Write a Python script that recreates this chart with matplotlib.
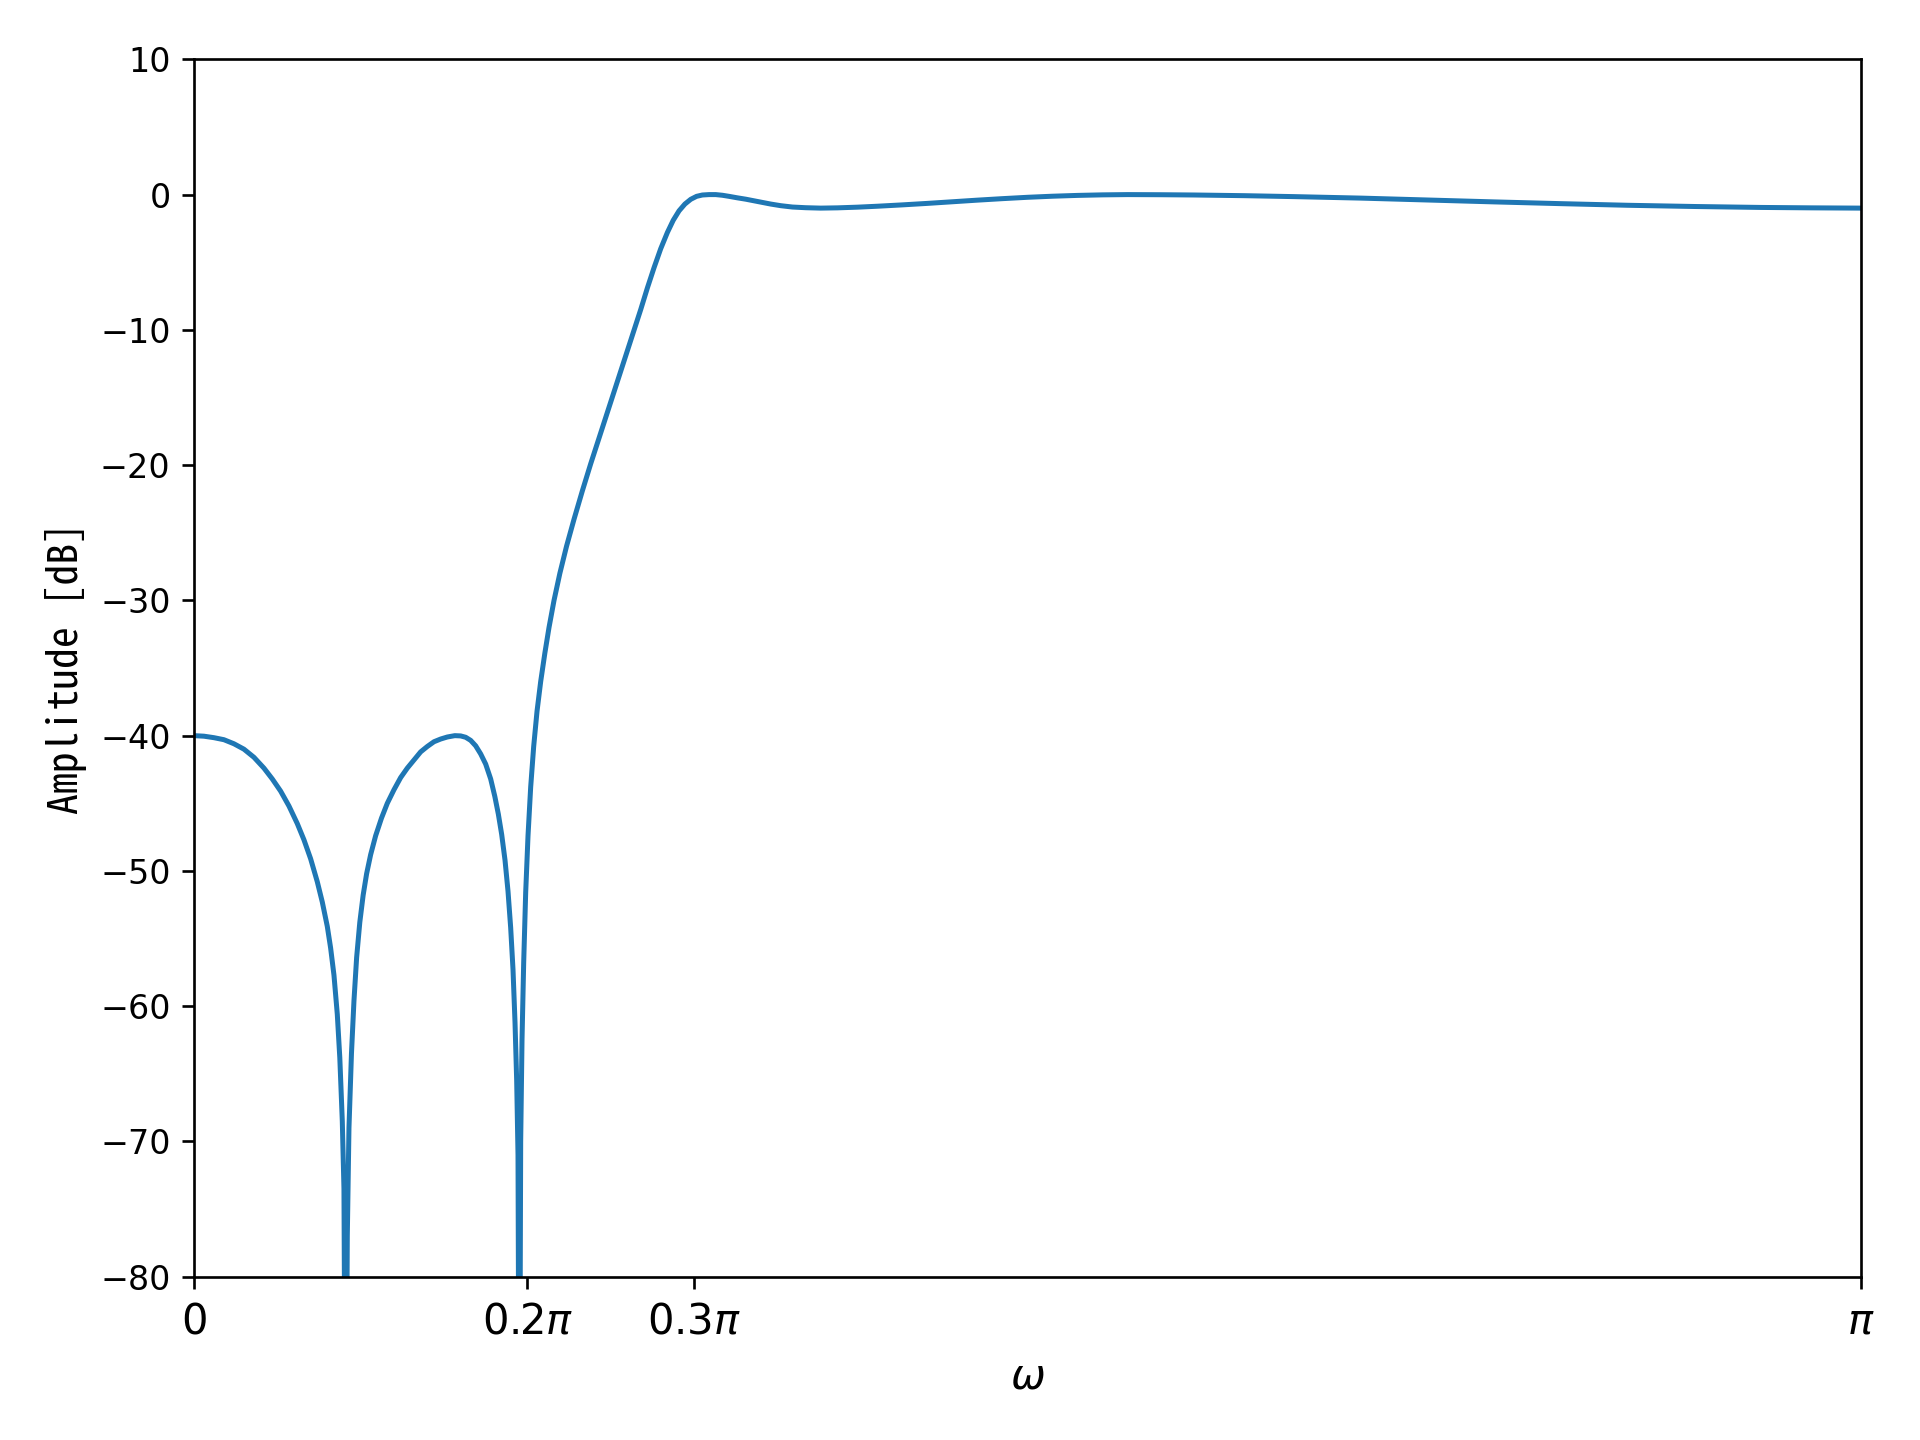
import numpy as np
import matplotlib
matplotlib.use("Agg")
import matplotlib.pyplot as plt
from matplotlib import font_manager

# normalized frequency (omega / pi) and amplitude in dB
omega_over_pi = [
    0.000, 0.006, 0.012, 0.018, 0.024, 0.030, 0.036, 0.042, 0.047, 0.052,
    0.057, 0.062, 0.066, 0.070, 0.074, 0.077, 0.080, 0.082, 0.084, 0.086,
    0.0875, 0.0890, 0.0900, 0.0910, 0.0920, 0.0930, 0.0945, 0.0960, 0.0976, 0.0995,
    0.1015, 0.1036, 0.106, 0.109, 0.1125, 0.116, 0.120, 0.124, 0.128, 0.132,
    0.136, 0.140, 0.144, 0.148, 0.152, 0.1565, 0.160, 0.163, 0.166, 0.169,
    0.172, 0.175, 0.178, 0.1805, 0.1826, 0.1846, 0.1866, 0.1884, 0.1900, 0.1914,
    0.1926, 0.1936, 0.1944, 0.1952, 0.1960, 0.1968, 0.1978, 0.1990, 0.2004, 0.2020,
    0.2038, 0.2058, 0.2080, 0.2105, 0.2130, 0.2160, 0.2195, 0.2235, 0.2280, 0.2330,
    0.2380, 0.2430, 0.2480, 0.2530, 0.2580, 0.2630, 0.2680, 0.2720, 0.2760, 0.2800,
    0.2840, 0.2875, 0.2910, 0.2945, 0.2980, 0.3015, 0.3050, 0.3090, 0.3130, 0.3170,
    0.3210, 0.3260, 0.3310, 0.3360, 0.3410, 0.3460, 0.3520, 0.3590, 0.3670, 0.3760,
    0.3860, 0.3980, 0.4100, 0.4250, 0.4400, 0.4550, 0.4700, 0.4850, 0.5000, 0.5150,
    0.5300, 0.5450, 0.5600, 0.5800, 0.6000, 0.6300, 0.6600, 0.7000, 0.7400, 0.7800,
    0.8200, 0.8600, 0.9000, 0.9400, 0.9700, 1.0000,
]
amplitude_db = [
    -40.0, -40.04, -40.15, -40.3, -40.6, -41.0, -41.6, -42.4, -43.2, -44.1,
    -45.2, -46.5, -47.7, -49.1, -50.8, -52.3, -54.1, -55.7, -57.7, -60.6,
    -63.8, -68.5, -73.5, -100.0, -77.0, -69.0, -63.5, -59.6, -56.4, -53.8,
    -51.8, -50.2, -48.8, -47.4, -46.1, -45.0, -44.0, -43.1, -42.4, -41.8,
    -41.2, -40.8, -40.45, -40.25, -40.1, -40.0, -40.02, -40.12, -40.35, -40.75,
    -41.35, -42.1, -43.2, -44.5, -45.8, -47.3, -49.2, -51.5, -54.2, -57.3,
    -61.2, -65.5, -71.0, -100.0, -70.0, -62.5, -56.8, -51.6, -47.4, -43.8,
    -40.8, -38.2, -36.0, -33.9, -32.0, -30.0, -28.0, -26.0, -24.0, -21.9,
    -19.9, -18.0, -16.1, -14.2, -12.3, -10.4, -8.5, -6.9, -5.4, -4.0,
    -2.8, -1.9, -1.2, -0.7, -0.35, -0.13, -0.03, 0.0, 0.0, -0.05,
    -0.13, -0.24, -0.34, -0.46, -0.58, -0.70, -0.82, -0.92, -0.97, -1.0,
    -0.98, -0.93, -0.86, -0.76, -0.65, -0.53, -0.41, -0.30, -0.20, -0.12,
    -0.06, -0.02, 0.0, -0.01, -0.03, -0.08, -0.15, -0.26, -0.40, -0.54,
    -0.67, -0.79, -0.88, -0.95, -0.98, -1.0,
]

x_tick_pos = [0.0, 0.2, 0.3, 1.0]
x_tick_labels = [r"$0$", r"$0.2\pi$", r"$0.3\pi$", r"$\pi$"]
y_ticks = [-80, -70, -60, -50, -40, -30, -20, -10, 0, 10]

# pick a Japanese gothic font for the y label
label_family = "Noto Sans CJK JP"
for cand in ["Noto Sans Mono CJK JP", "Noto Sans CJK JP"]:
    try:
        font_manager.findfont(cand, fallback_to_default=False)
        label_family = cand
        break
    except Exception:
        pass

fig = plt.figure(figsize=(8, 6), dpi=240)
ax = fig.add_subplot(111)
fig.subplots_adjust(left=0.1010, right=0.9693, bottom=0.1134, top=0.9588)

w = np.pi * np.array(omega_over_pi)
ax.plot(w, amplitude_db, color="#1f77b4", linewidth=1.5)

ax.set_xlim(0, np.pi)
ax.set_ylim(-80, 10)
ax.set_xticks([np.pi * v for v in x_tick_pos])
ax.set_xticklabels(x_tick_labels, fontsize=12.5)
ax.set_yticks(y_ticks)
ax.tick_params(axis="y", labelsize=10)

ax.set_xlabel(r"$\omega$", fontsize=12.5)
ax.set_ylabel("Amplitude [dB]", family=[label_family, "DejaVu Sans"], fontsize=12.5)

fig.savefig("out.png", dpi=240)
